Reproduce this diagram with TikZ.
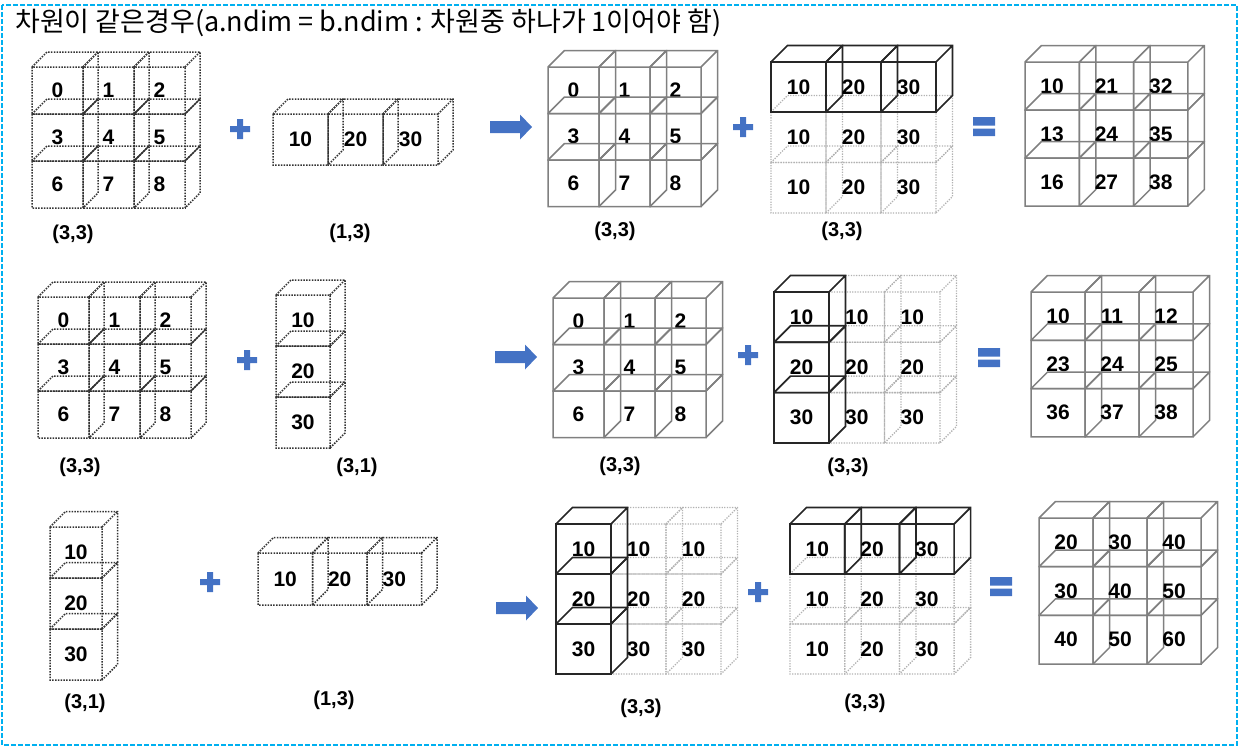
\documentclass[tikz,border=0pt]{standalone}
\usepackage{fontspec}
\newfontfamily\titlefont{Noto Sans CJK KR}
\newfontfamily\numfont{Liberation Sans}
\usetikzlibrary{positioning}

\definecolor{boxblue}{HTML}{4472C4}
\definecolor{framecyan}{HTML}{00B0F0}

\def\dep{16}
% style, x0, y0, cell w, cell h, columns, labels, name
\newcommand\cubegrid[8]{%
  \foreach \lab [count=\k from 0] in {#7}{%
    \pgfmathtruncatemacro\cc{mod(\k,#6)}%
    \pgfmathtruncatemacro\rr{div(\k,#6)}%
    \draw[#1] (#2+\cc*#4,#3+\rr*#5) rectangle ++(#4,#5)
      (#2+\cc*#4,#3+\rr*#5) -- ++(\dep,-\dep) -- ++(#4,0) -- ++(0,#5) -- ++(-\dep,\dep)
      (#2+\cc*#4+#4,#3+\rr*#5) -- ++(\dep,-\dep);
    \node[num] (#8-\k) at (#2+\cc*#4+#4/2,#3+\rr*#5+#5/2) {\lab};
  }}
\newcommand\plussign[2]{\fill[boxblue] (#1-10,#2-3) rectangle (#1+10,#2+3) (#1-3,#2-10) rectangle (#1+3,#2+10);}
\newcommand\eqsign[2]{\fill[boxblue] (#1-11,#2-10) rectangle (#1+11,#2-1.5) (#1-11,#2+1.5) rectangle (#1+11,#2+9);}
\newcommand\bluearrow[2]{\fill[boxblue] (#1,#2-6) -- (#1+30,#2-6) -- (#1+30,#2-12.5) -- (#1+42,#2)
  -- (#1+30,#2+12.5) -- (#1+30,#2+6) -- (#1,#2+6) -- cycle;}

\begin{document}
\begin{tikzpicture}[x=1pt,y=-1pt,
	dotcube/.style={draw=black!80,line width=1.5pt,dash pattern=on 1.5pt off 1.3pt},
	fadecube/.style={draw=black!30,line width=1.3pt,dash pattern=on 1.3pt off 1.3pt},
	graycube/.style={draw=black!50,line width=1.5pt},
	darkcube/.style={draw=black!85,line width=1.7pt},
	num/.style={font=\numfont\bfseries\fontsize{21}{21}\selectfont,inner sep=0pt},
	dimlabel/.style={font=\numfont\bfseries\fontsize{20}{20}\selectfont,inner sep=0pt}]

	\useasboundingbox (0,0) rectangle (1240,747);
	\draw[framecyan,line width=1.6pt,dash pattern=on 5pt off 2pt] (2,5) rectangle (1237,745);
	\node[anchor=west,inner sep=0pt,font=\titlefont\fontsize{27}{27}\selectfont] (title) at (15,23)
		{차원이 같은경우(a.ndim = b.ndim : 차원중 하나가 1이어야 함)};

	% row 1
	\def\dep{15}
	\cubegrid{dotcube}{32}{67}{51}{47}{3}{0,1,2,3,4,5,6,7,8}{a1}
	\cubegrid{dotcube}{273}{114}{55}{51}{3}{10,20,30}{b1}
	\def\dep{16.5}
	\cubegrid{graycube}{548}{67}{51}{46.5}{3}{0,1,2,3,4,5,6,7,8}{c1}
	\cubegrid{fadecube}{771}{112}{55}{50.5}{3}{10,20,30,10,20,30}{d1f}
	\cubegrid{darkcube}{771}{62}{55}{50}{3}{10,20,30}{d1}
	\cubegrid{graycube}{1025}{62}{54.3}{48}{3}{10,21,32,13,24,35,16,27,38}{e1}
	\node[dimlabel] (a1lab) at (73,234) {(3,3)};
	\node[dimlabel] (b1lab) at (350,233) {(1,3)};
	\node[dimlabel] (c1lab) at (615,231) {(3,3)};
	\node[dimlabel] (d1lab) at (842,231) {(3,3)};
	\plussign{240}{129}
	\bluearrow{490}{127}
	\plussign{743}{127}
	\eqsign{984}{127}

	% row 2
	\def\dep{15}
	\cubegrid{dotcube}{38}{297}{51}{47}{3}{0,1,2,3,4,5,6,7,8}{a2}
	\cubegrid{dotcube}{276}{295}{54}{51}{1}{10,20,30}{b2}
	\def\dep{16.5}
	\cubegrid{graycube}{553}{298}{51}{46.5}{3}{0,1,2,3,4,5,6,7,8}{c2}
	\cubegrid{fadecube}{829}{292}{55.5}{50.3}{2}{10,10,20,20,30,30}{d2f}
	\cubegrid{darkcube}{774}{292}{55}{50.3}{1}{10,20,30}{d2}
	\cubegrid{graycube}{1031}{292}{54}{48.3}{3}{10,11,12,23,24,25,36,37,38}{e2}
	\node[dimlabel] (a2lab) at (80,467) {(3,3)};
	\node[dimlabel] (b2lab) at (357,467) {(3,1)};
	\node[dimlabel] (c2lab) at (620,466) {(3,3)};
	\node[dimlabel] (d2lab) at (848,467) {(3,3)};
	\plussign{247}{360}
	\bluearrow{495}{357}
	\plussign{748}{355}
	\eqsign{989}{358}

	% row 3
	\def\dep{15.5}
	\cubegrid{dotcube}{50}{527}{52}{51}{1}{10,20,30}{a3}
	\cubegrid{dotcube}{258}{553}{54.5}{52}{3}{10,20,30}{b3}
	\def\dep{16.5}
	\cubegrid{fadecube}{611}{524}{55}{50}{2}{10,10,20,20,30,30}{c3f}
	\cubegrid{darkcube}{556}{524}{55}{50}{1}{10,20,30}{c3}
	\cubegrid{fadecube}{790}{574}{54.7}{50}{3}{10,20,30,10,20,30}{d3f}
	\cubegrid{darkcube}{790}{524}{54.7}{50}{3}{10,20,30}{d3}
	\cubegrid{graycube}{1039}{518}{54}{48.7}{3}{20,30,40,30,40,50,40,50,60}{e3}
	\node[dimlabel] (a3lab) at (85,703) {(3,1)};
	\node[dimlabel] (b3lab) at (334,700) {(1,3)};
	\node[dimlabel] (c3lab) at (641,708) {(3,3)};
	\node[dimlabel] (d3lab) at (865,703) {(3,3)};
	\plussign{210}{582}
	\bluearrow{496}{608}
	\plussign{758}{592}
	\eqsign{1001}{587}
\end{tikzpicture}
\end{document}
